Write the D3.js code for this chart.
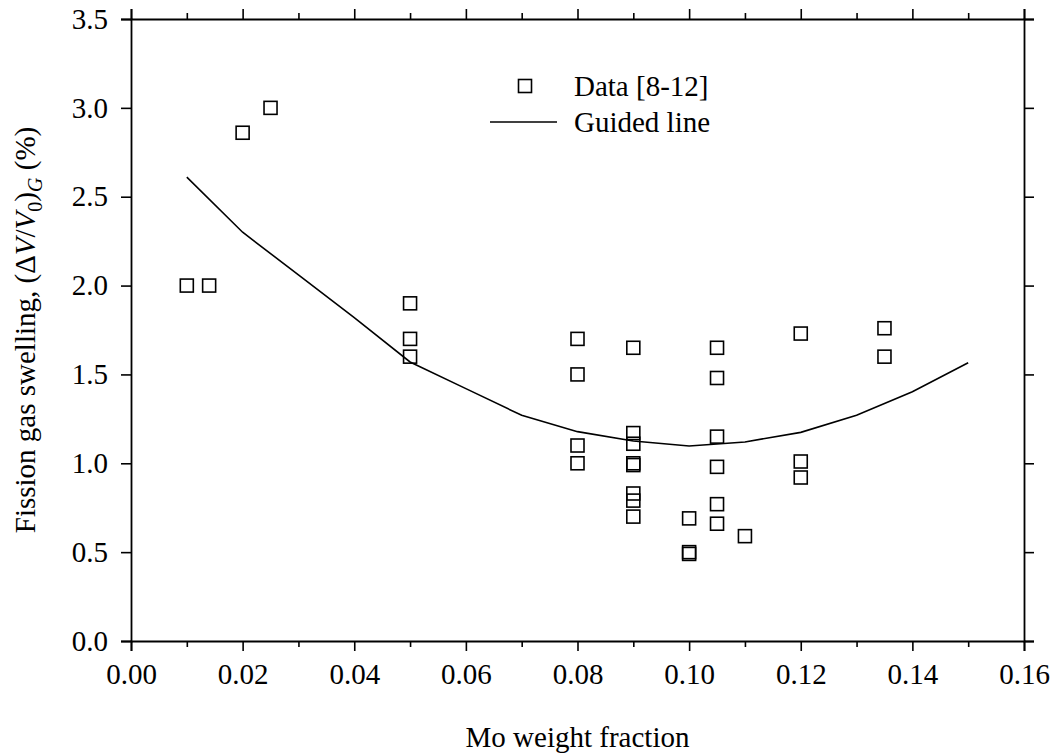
<!DOCTYPE html>
<html>
<head>
<meta charset="utf-8">
<script src="https://cdn.jsdelivr.net/npm/d3@7"></script>
<style>
  body { margin: 0; background: #fff; }
</style>
</head>
<body>
<div id="chart"></div>
<script>
// measured points: Mo weight fraction vs fission gas swelling (%)
const moFraction = [0.01, 0.014, 0.02, 0.025, 0.05, 0.05, 0.05, 0.08, 0.08, 0.08, 0.08,
  0.09, 0.09, 0.09, 0.09, 0.09, 0.09, 0.09, 0.09, 0.10, 0.10, 0.10,
  0.105, 0.105, 0.105, 0.105, 0.105, 0.105, 0.11, 0.12, 0.12, 0.12, 0.135, 0.135];
const swelling = [2.0, 2.0, 2.86, 3.0, 1.90, 1.70, 1.60, 1.70, 1.50, 1.10, 1.00,
  1.65, 1.17, 1.11, 1.00, 0.99, 0.83, 0.79, 0.70, 0.69, 0.50, 0.49,
  1.65, 1.48, 1.15, 0.98, 0.77, 0.66, 0.59, 1.73, 1.01, 0.92, 1.76, 1.60];

// guided line
const guideX = [0.01, 0.02, 0.03, 0.04, 0.05, 0.06, 0.07, 0.08, 0.09, 0.10, 0.11, 0.12, 0.13, 0.14, 0.15];
const guideY = [2.61, 2.30, 2.06, 1.82, 1.57, 1.42, 1.27, 1.178, 1.125, 1.097, 1.12, 1.174, 1.27, 1.403, 1.566];

const xTicks = [0, 0.02, 0.04, 0.06, 0.08, 0.10, 0.12, 0.14, 0.16];
const xMinor = [0.01, 0.03, 0.05, 0.07, 0.09, 0.11, 0.13, 0.15];
const yTicks = [0, 0.5, 1.0, 1.5, 2.0, 2.5, 3.0, 3.5];

const W = 1053, H = 756;
const margin = { top: 19, right: 29, bottom: 115, left: 131 };
const width = W - margin.left - margin.right,
  height = H - margin.top - margin.bottom;
const serif = "'Liberation Serif', 'Times New Roman', Times, 'DejaVu Serif', serif";

const svg = d3.select("#chart").append("svg")
  .attr("width", W).attr("height", H)
  .style("font-family", serif);

const g = svg.append("g")
  .attr("transform", `translate(${margin.left},${margin.top})`);

const x = d3.scaleLinear().domain([0, 0.16]).range([0, width]);
const y = d3.scaleLinear().domain([0, 3.5]).range([height, 0]);

const fmt2 = d3.format(".2f"), fmt1 = d3.format(".1f");
const fontSize = 29;

// axes: bottom/left labelled, top/right ticks only
function styleAxis(sel) {
  sel.attr("font-family", null).attr("font-size", null);
  sel.selectAll("path").attr("stroke", "#000").attr("stroke-width", 1.8);
  sel.selectAll("line").attr("stroke", "#000").attr("stroke-width", 1.6);
  sel.selectAll("text")
    .style("font-family", serif)
    .style("font-size", fontSize + "px").attr("fill", "#000");
}

g.append("g").attr("transform", `translate(0,${height})`)
  .call(d3.axisBottom(x).tickValues(xTicks).tickFormat(fmt2).tickSizeOuter(0).tickSize(10).tickPadding(12))
  .call(styleAxis);
g.append("g").attr("transform", `translate(0,${height})`)
  .call(d3.axisBottom(x).tickValues(xMinor).tickFormat("").tickSizeOuter(0).tickSize(6))
  .call(styleAxis).select("path").remove();

g.append("g")
  .call(d3.axisTop(x).tickValues(xTicks).tickFormat("").tickSizeOuter(0).tickSize(10))
  .call(styleAxis);
g.append("g")
  .call(d3.axisTop(x).tickValues(xMinor).tickFormat("").tickSizeOuter(0).tickSize(6))
  .call(styleAxis).select("path").remove();

g.append("g")
  .call(d3.axisLeft(y).tickValues(yTicks).tickFormat(fmt1).tickSizeOuter(0).tickSize(10).tickPadding(13))
  .call(styleAxis);
g.append("g").attr("transform", `translate(${width},0)`)
  .call(d3.axisRight(y).tickValues(yTicks).tickFormat("").tickSizeOuter(0).tickSize(10))
  .call(styleAxis);

// guided line
const guide = guideX.map((v, i) => [v, guideY[i]]);
g.append("path")
  .datum(guide)
  .attr("fill", "none")
  .attr("stroke", "#000")
  .attr("stroke-width", 1.6)
  .attr("d", d3.line().x((d) => x(d[0])).y((d) => y(d[1])));

// data squares
const s = 13;
g.selectAll(".pt")
  .data(moFraction.map((v, i) => ({ x: v, y: swelling[i] })))
  .enter().append("rect")
  .attr("class", "pt")
  .attr("x", (d) => x(d.x) - s / 2)
  .attr("y", (d) => y(d.y) - s / 2)
  .attr("width", s).attr("height", s)
  .attr("fill", "none")
  .attr("stroke", "#000")
  .attr("stroke-width", 1.6);

// legend
const leg = svg.append("g");
leg.append("rect")
  .attr("x", 525 - 6.5).attr("y", 86 - 6.5)
  .attr("width", 13).attr("height", 13)
  .attr("fill", "none").attr("stroke", "#000").attr("stroke-width", 1.6);
leg.append("text").attr("x", 574).attr("y", 96)
  .style("font-size", fontSize + "px").text("Data [8-12]");
leg.append("line")
  .attr("x1", 490).attr("x2", 557).attr("y1", 122).attr("y2", 122)
  .attr("stroke", "#000").attr("stroke-width", 1.6);
leg.append("text").attr("x", 574).attr("y", 132)
  .style("font-size", fontSize + "px").text("Guided line");

// axis titles
svg.append("text")
  .attr("x", margin.left + width / 2).attr("y", 747)
  .attr("text-anchor", "middle")
  .style("font-size", fontSize + "px")
  .text("Mo weight fraction");

const yl = svg.append("text")
  .attr("transform", `translate(35,${margin.top + height / 2}) rotate(-90)`)
  .attr("text-anchor", "middle")
  .style("font-size", fontSize + "px");
yl.append("tspan").text("Fission gas swelling, (\u0394");
yl.append("tspan").style("font-style", "italic").text("V");
yl.append("tspan").text("/");
yl.append("tspan").style("font-style", "italic").text("V");
yl.append("tspan").attr("dy", 7).style("font-size", "20px").text("0");
yl.append("tspan").attr("dy", -7).text(")");
yl.append("tspan").attr("dy", 7).style("font-size", "20px").style("font-style", "italic").text("G");
yl.append("tspan").attr("dy", -7).text(" (%)");
</script>
</body>
</html>
